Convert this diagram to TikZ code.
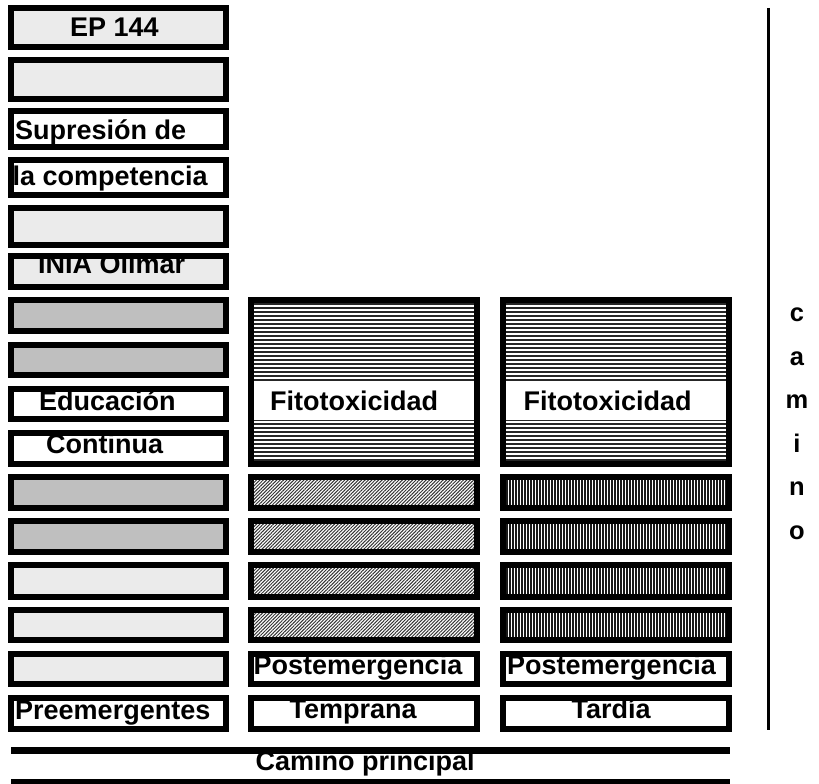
\documentclass[tikz,border=0pt]{standalone}
\usepackage{fontspec}
\setmainfont{Liberation Sans}
\usetikzlibrary{patterns.meta}
\newcommand\cellnode[6]{\node[cell,#6,minimum width={(#4-#2-6)*1pt},minimum height={(#5-#3-6)*1pt}] (#1) at (#2+3,#3+3) {};}
\begin{document}
\begin{tikzpicture}[x=1pt,y=-1pt,
  cell/.style={inner sep=0, outer sep=0, anchor=north west, draw=none},
  border/.style={line width=6pt, draw=black},
  lbl/.style={inner sep=0, anchor=base west, font=\bfseries\fontsize{27}{30}\selectfont},
  vlbl/.style={inner sep=0, anchor=base, font=\bfseries\fontsize{25.5}{30}\selectfont},
  dots/.style={fill=black!8},
  grayf/.style={fill=black!25},
  plain/.style={fill=white},
  hlines/.style={fill=white},
  vlines/.style={fill=white},
  hl/.style={line width=1.3pt, draw=black!85},
  vl/.style={line width=1.4pt, draw=black!90},
  diag/.style={pattern={Lines[angle=45,distance=2.4pt,line width=1pt]}, pattern color=black!80},
  road/.style={line width=7pt, draw=black}]
\useasboundingbox (0,0) rectangle (819,784);
% left column
\cellnode{L1}{8}{5}{229}{50}{dots}
\cellnode{L2}{8}{57}{229}{102}{dots}
\cellnode{L3}{8}{108}{229}{150}{plain}
\cellnode{L4}{8}{157}{229}{198}{plain}
\cellnode{L5}{8}{205}{229}{248}{dots}
\cellnode{L6}{8}{253}{229}{290}{dots}
\cellnode{L7}{8}{297}{229}{334}{grayf}
\cellnode{L8}{8}{342}{229}{378}{grayf}
\cellnode{L9}{8}{386}{229}{422}{plain}
\cellnode{L10}{8}{430}{229}{467}{plain}
\cellnode{L11}{8}{474}{229}{511}{grayf}
\cellnode{L12}{8}{518}{229}{555}{grayf}
\cellnode{L13}{8}{562}{229}{600}{dots}
\cellnode{L14}{8}{607}{229}{643}{dots}
\cellnode{L15}{8}{651}{229}{687}{dots}
\cellnode{L16}{8}{695}{229}{732}{plain}
% middle column
\cellnode{M1}{248}{297}{480}{467}{hlines}
\cellnode{M2}{248}{474}{480}{511}{diag}
\cellnode{M3}{248}{518}{480}{555}{diag}
\cellnode{M4}{248}{562}{480}{600}{diag}
\cellnode{M5}{248}{607}{480}{643}{diag}
\cellnode{M6}{248}{651}{480}{687}{plain}
\cellnode{M7}{248}{695}{480}{732}{plain}
% right column
\cellnode{R1}{500}{297}{732}{467}{hlines}
\cellnode{R2}{500}{474}{732}{511}{vlines}
\cellnode{R3}{500}{518}{732}{555}{vlines}
\cellnode{R4}{500}{562}{732}{600}{vlines}
\cellnode{R5}{500}{607}{732}{643}{vlines}
\cellnode{R6}{500}{651}{732}{687}{plain}
\cellnode{R7}{500}{695}{732}{732}{plain}
% horizontal line shading in the large boxes
\foreach \n in {M1,R1}
  \foreach \y in {304,308,...,460}
    \draw[hl] (\n.west |- 0,\y) -- (\n.east |- 0,\y);
% vertical line shading
\foreach \n in {R2,R3,R4,R5}
  \foreach \x in {507,510,...,726}
    \draw[vl] (\x,0 |- \n.north) -- (\x,0 |- \n.south);
% white bands in the large boxes
\fill[white] (M1.west |- 0,381) rectangle (M1.east |- 0,420);
\fill[white] (R1.west |- 0,381) rectangle (R1.east |- 0,420);
% labels
\node[lbl] (t1) at (70,36.7) {EP 144};
\node[lbl] (t2) at (15,139.3) {Supresión de};
\node[lbl] (t3) at (12.5,185) {la competencia};
\node[lbl] (t4) at (38,273.3) {INIA Olimar};
\node[lbl] (t5) at (39,410) {Educación};
\node[lbl] (t6) at (46,453.3) {Continua};
\node[lbl] (t7) at (15,719.3) {Preemergentes};
\node[lbl] (t8) at (270,410) {Fitotoxicidad};
\node[lbl] (t9) at (523.5,410) {Fitotoxicidad};
\node[lbl] (t10) at (253.5,674) {Postemergencia};
\node[lbl] (t11) at (289.5,718.3) {Temprana};
\node[lbl] (t12) at (507,674) {Postemergencia};
\node[lbl] (t13) at (571.5,718.3) {Tardía};
\node[lbl] (t14) at (255.5,770) {Camino principal};
% borders
\foreach \n in {L1,L2,L3,L4,L5,L6,L7,L8,L9,L10,L11,L12,L13,L14,L15,L16,M1,M2,M3,M4,M5,M6,M7,R1,R2,R3,R4,R5,R6,R7}
  \draw[border] (\n.north west) rectangle (\n.south east);
% main road
\coordinate (r1a) at (11,750.5); \coordinate (r1b) at (730,750.5);
\coordinate (r2a) at (11,782.5); \coordinate (r2b) at (730,782.5);
\draw[road] (r1a) -- (r1b);
\draw[road] (r2a) -- (r2b);
% side road
\coordinate (va) at (768.5,8); \coordinate (vb) at (768.5,730);
\draw[line width=3pt] (va) -- (vb);
\node[vlbl] (c1) at (797,321.7) {c};
\node[vlbl] (c2) at (797,365.2) {a};
\node[vlbl] (c3) at (797,408.7) {m};
\node[vlbl] (c4) at (797,452.3) {i};
\node[vlbl] (c5) at (797,495.8) {n};
\node[vlbl] (c6) at (797,539.4) {o};
\end{tikzpicture}
\end{document}
